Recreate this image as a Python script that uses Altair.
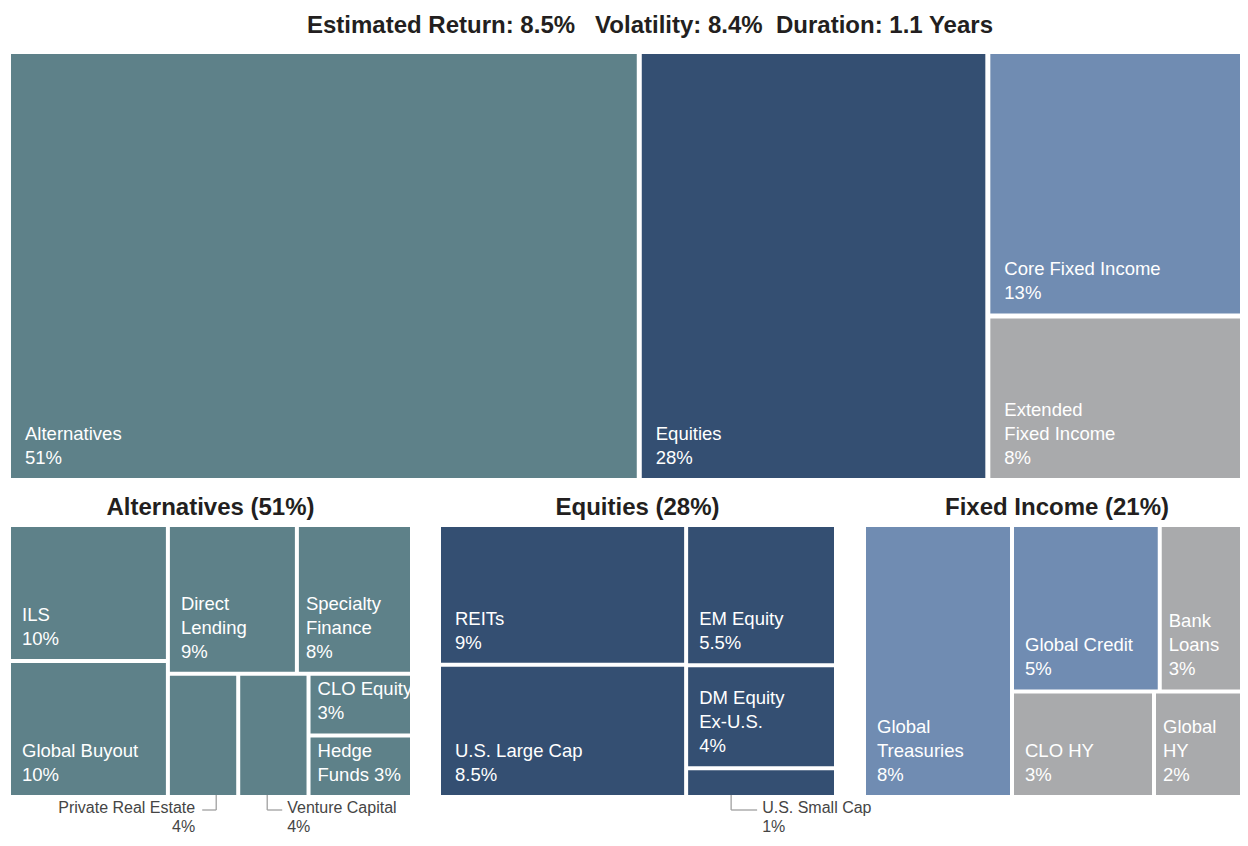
import altair as alt
import pandas as pd

# ---------------- data ----------------
top_names = ["Alternatives", "Equities", "Core Fixed Income", "Extended\nFixed Income"]
top_values = [51, 28, 13, 8]
top_class = ["Alternatives", "Equities", "Core", "Extended"]

alt_names = ["ILS", "Global Buyout", "Direct\nLending", "Specialty\nFinance",
             "Private Real Estate", "Venture Capital", "CLO Equity", "Hedge\nFunds"]
alt_values = [10, 10, 9, 8, 4, 4, 3, 3]

eq_names = ["REITs", "U.S. Large Cap", "EM Equity", "DM Equity\nEx-U.S.", "U.S. Small Cap"]
eq_values = [9, 8.5, 5.5, 4, 1]

fi_names = ["Global\nTreasuries", "Global Credit", "Bank\nLoans", "CLO HY", "Global\nHY"]
fi_values = [8, 5, 3, 3, 2]
fi_class = ["Core", "Core", "Extended", "Extended", "Extended"]

panel_titles = ["Alternatives (51%)", "Equities (28%)", "Fixed Income (21%)"]
main_title = "Estimated Return: 8.5%\u00a0\u00a0\u00a0Volatility: 8.4%\u00a0\u00a0Duration: 1.1 Years"

class_order = ["Alternatives", "Equities", "Core", "Extended"]
class_colors = ["#5E8189", "#344F72", "#708CB2", "#A9AAAC"]

# ---------------- layout (slice & dice from values) ----------------
FONT = "Liberation Sans, Arial, sans-serif"

top_tree = ("h", [0, 1, ("v", [2, 3])])
alt_tree = ("h", [("v", [0, 1]), ("v", [("h", [2, 3]), ("h", [4, 5, ("v", [6, 7])])])])
eq_tree = ("h", [("v", [0, 1]), ("v", [2, 3, 4])])
fi_tree = ("h", [0, ("v", [("h", [1, 2]), ("h", [3, 4])])])


def total(node, vals):
    if isinstance(node, int):
        return vals[node]
    return sum(total(c, vals) for c in node[1])


def layout(node, vals, box, gap, out):
    x0, y0, x1, y1 = box
    if isinstance(node, int):
        out[node] = box
        return
    d, kids = node
    sums = [total(k, vals) for k in kids]
    S = sum(sums)
    n = len(kids)
    if d == "h":
        avail = (x1 - x0) - gap * (n - 1)
        p = x0
        for k, s in zip(kids, sums):
            w = avail * s / S
            layout(k, vals, (p, y0, p + w, y1), gap, out)
            p += w + gap
    else:
        avail = (y1 - y0) - gap * (n - 1)
        p = y0
        for k, s in zip(kids, sums):
            h = avail * s / S
            layout(k, vals, (x0, p, x1, p + h), gap, out)
            p += h + gap


panels = [
    dict(names=top_names, values=top_values, cls=top_class, tree=top_tree,
         box=(11, 54, 1248, 478), gap=5),
    dict(names=alt_names, values=alt_values, cls=["Alternatives"] * len(alt_names), tree=alt_tree,
         box=(11, 527, 410, 795), gap=4),
    dict(names=eq_names, values=eq_values, cls=["Equities"] * len(eq_names), tree=eq_tree,
         box=(441, 527, 834, 795), gap=4),
    dict(names=fi_names, values=fi_values, cls=fi_class, tree=fi_tree,
         box=(866, 527, 1248, 795), gap=4),
]

# callouts for small tiles: name -> (side, anchor offset from edge, line length)
callouts = {
    "Private Real Estate": ("right", -20, 14),
    "Venture Capital": ("left", 27, 15),
    "U.S. Small Cap": ("left", 43, 26),
}
inline_pct = {"Hedge\nFunds"}

rects, labels, out_labels_l, out_labels_r, rules = [], [], [], [], []
LINE = 24

for p in panels:
    boxes = {}
    layout(p["tree"], p["values"], p["box"], p["gap"], boxes)
    for i, (nm, v, c) in enumerate(zip(p["names"], p["values"], p["cls"])):
        x0, y0, x1, y1 = boxes[i]
        rects.append(dict(x=x0, x2=x1, y=y0, y2=y1, cls=c))
        pct = f"{v:g}%"
        if nm in callouts:
            side, off, ln = callouts[nm]
            if side == "right":
                ax = x1 + off
                rules.append(dict(x=ax, x2=ax, y=y1, y2=y1 + 15))
                rules.append(dict(x=ax - ln, x2=ax, y=y1 + 15, y2=y1 + 15))
                tx = ax - ln - 7
                out_labels_r.append(dict(x=tx, y=y1 + 13, t=nm))
                out_labels_r.append(dict(x=tx, y=y1 + 32, t=pct))
            else:
                ax = x0 + off
                rules.append(dict(x=ax, x2=ax, y=y1, y2=y1 + 15))
                rules.append(dict(x=ax, x2=ax + ln, y=y1 + 15, y2=y1 + 15))
                tx = ax + ln + 5
                out_labels_l.append(dict(x=tx, y=y1 + 13, t=nm))
                out_labels_l.append(dict(x=tx, y=y1 + 32, t=pct))
            continue
        lines = nm.split("\n")
        if nm in inline_pct:
            lines[-1] = lines[-1] + " " + pct
        else:
            lines.append(pct)
        w = x1 - x0
        padx = 14 if w > 200 else (11 if w > 120 else 7)
        n = len(lines)
        for j, t in enumerate(lines):
            labels.append(dict(x=x0 + padx, y=y1 - 20 - (n - 1 - j) * LINE, t=t))

title_rows = [dict(x=650, y=26, t=main_title)]
for t, p in zip(panel_titles, panels[1:]):
    bx = p["box"]
    title_rows.append(dict(x=(bx[0] + bx[2]) / 2, y=508, t=t))

xs = alt.Scale(domain=[8, 1240], nice=False, zero=False)
ys = alt.Scale(domain=[8, 838], nice=False, zero=False, reverse=True)

rect_layer = alt.Chart(pd.DataFrame(rects)).mark_rect(strokeWidth=0).encode(
    x=alt.X("x:Q", scale=xs, axis=None),
    x2="x2:Q",
    y=alt.Y("y:Q", scale=ys, axis=None),
    y2="y2:Q",
    color=alt.Color("cls:N", scale=alt.Scale(domain=class_order, range=class_colors), legend=None),
)

rule_layer = alt.Chart(pd.DataFrame(rules)).mark_rule(color="#a0a0a0", strokeWidth=1.3).encode(
    x=alt.X("x:Q", scale=xs, axis=None), x2="x2:Q",
    y=alt.Y("y:Q", scale=ys, axis=None), y2="y2:Q",
)


def text_layer(rows, **kw):
    return alt.Chart(pd.DataFrame(rows)).mark_text(font=FONT, baseline="middle", **kw).encode(
        x=alt.X("x:Q", scale=xs, axis=None),
        y=alt.Y("y:Q", scale=ys, axis=None),
        text="t:N",
    )


lab_layer = text_layer(labels, align="left", fontSize=18.5, color="#ffffff")
out_l = text_layer(out_labels_l, align="left", fontSize=16, color="#454545")
out_r = text_layer(out_labels_r, align="right", fontSize=16, color="#454545")
tit_layer = text_layer(title_rows, align="center", fontSize=24, fontWeight="bold", color="#231f20")

chart = alt.layer(rect_layer, rule_layer, lab_layer, out_l, out_r, tit_layer).properties(
    width=1232, height=830, padding=0, autosize=alt.AutoSizeParams(type="none"),
).configure_view(stroke=None)

chart.save("out.html", embed_options={"renderer": "svg", "actions": False})
